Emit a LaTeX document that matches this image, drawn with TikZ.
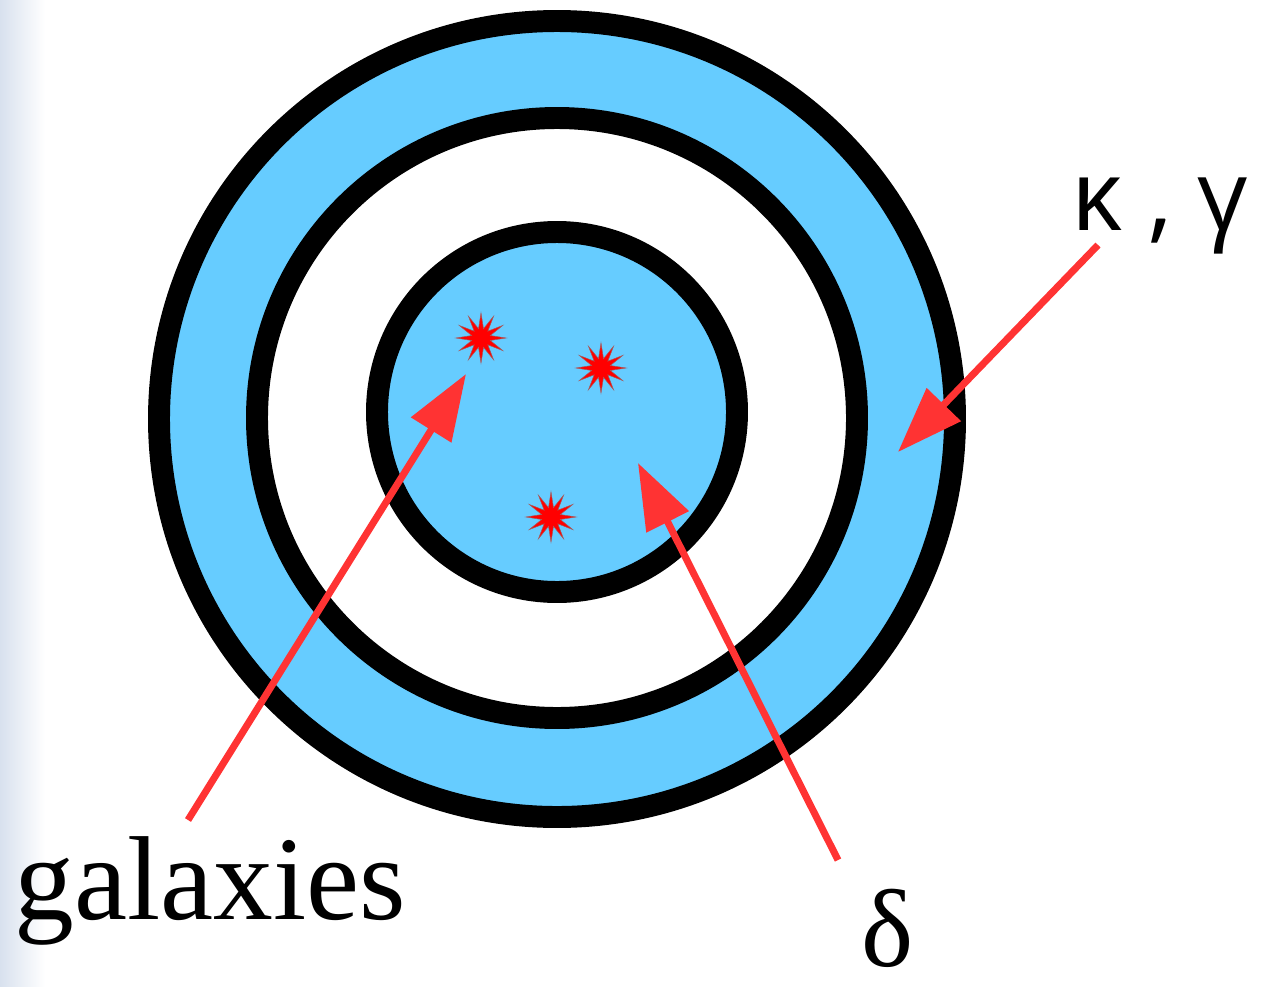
\documentclass[tikz,border=0pt]{standalone}
\usepackage{fontspec}
\setmainfont{Liberation Serif}
\newfontfamily\greeksans{Open Sans}
\usepackage{tikz}
\usetikzlibrary{arrows.meta,shapes.geometric}
\definecolor{shellblue}{RGB}{102,204,255}
\definecolor{pointer}{RGB}{255,51,51}
\definecolor{edgeshade}{RGB}{216,225,238}
\tikzset{
  ring/.style={draw=black,line width=12.5pt},
  galaxy/.style={star,star points=12,star point ratio=2.6,minimum size=1cm,inner sep=0pt,fill=red,draw=gray!70!red,line width=0.3pt},
  pointarrow/.style={draw=pointer,line width=4pt,-{Triangle[length=1.32cm,width=0.92cm]}},
  biglabel/.style={font=\fontsize{68}{80}\selectfont,inner sep=0pt,anchor=base}
}
\begin{document}
\begin{tikzpicture}[x=0.02cm,y=-0.02cm]
\useasboundingbox (0,0) rectangle (1261,987);
\shade[left color=edgeshade,right color=white] (0,0) rectangle (45,987);
\draw[ring,fill=shellblue] (557,419) circle (398);
\draw[ring,fill=white] (557,418) circle (300);
\draw[ring,fill=shellblue] (557,412) circle (180);
\node[galaxy] (g1) at (481,338) {};
\node[galaxy] (g2) at (601,368) {};
\node[galaxy] (g3) at (551,517) {};
\node[biglabel] (galaxies) at (210,919) {galaxies};
\node[biglabel,font=\fontsize{63}{75}\selectfont] (delta) at (888,966) {δ};
\node[inner sep=0pt,anchor=base,font=\greeksans\fontsize{56}{68}\selectfont] (kapgam) at (1160,230) {κ , γ};
\coordinate (galstart) at (188,820);
\coordinate (galtip) at (466,374);
\coordinate (delstart) at (838,860);
\coordinate (deltip) at (638,463);
\coordinate (kapstart) at (1098,245);
\coordinate (kaptip) at (898,452);
\draw[pointarrow] (galstart) -- (galtip);
\draw[pointarrow] (delstart) -- (deltip);
\draw[pointarrow] (kapstart) -- (kaptip);
\end{tikzpicture}
\end{document}
